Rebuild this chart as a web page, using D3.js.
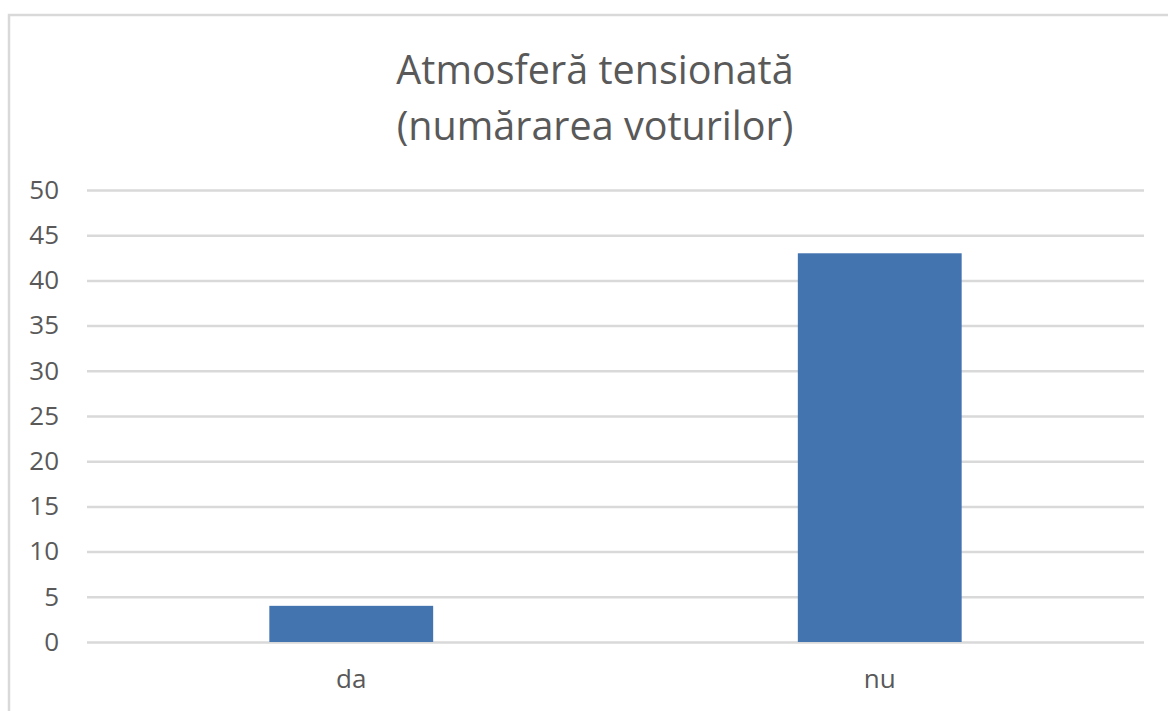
<!DOCTYPE html>
<html>
<head>
<meta charset="utf-8">
<script src="https://cdn.jsdelivr.net/npm/d3@7"></script>
<style>
html,body{margin:0;padding:0;background:#fff;}
svg{display:block;}
</style>
</head>
<body>
<svg id="chart" width="1168" height="711"></svg>
<script>
const titleLines = ["Atmosferă tensionată", "(numărarea voturilor)"];
const categories = ["da", "nu"];
const values = [4, 43];
const yTicks = [0, 5, 10, 15, 20, 25, 30, 35, 40, 45, 50];

const W = 1168, H = 711;
const svg = d3.select("#chart");
const font = "'Open Sans', sans-serif";
const textColor = "#595959";

// outer chart border (partially visible)
svg.append("rect").attr("x", 9).attr("y", 15).attr("width", W + 20).attr("height", H + 20)
  .attr("fill", "#fff").attr("stroke", "#d9d9d9").attr("stroke-width", 2.5);

const plot = {left: 87, right: 1144, top: 190, bottom: 642};

const y = d3.scaleLinear().domain([0, 50]).range([plot.bottom, plot.top]);
const x = d3.scaleBand().domain(categories).range([plot.left, plot.right])
  .paddingInner(0.69).paddingOuter(0.345);

// gridlines via axis
const yAxis = d3.axisLeft(y).tickValues(yTicks).tickSize(-(plot.right - plot.left)).tickPadding(28);
const gy = svg.append("g").attr("transform", `translate(${plot.left},0)`).call(yAxis);
gy.select(".domain").remove();
gy.selectAll(".tick line").attr("stroke", "#d9d9d9").attr("stroke-width", 2.5);
gy.selectAll(".tick text").attr("fill", textColor).attr("font-family", font).attr("font-size", 26);

// bars
svg.append("g").selectAll("rect").data(categories).join("rect")
  .attr("x", d => x(d))
  .attr("width", x.bandwidth())
  .attr("y", (d, i) => y(values[i]))
  .attr("height", (d, i) => y(0) - y(values[i]))
  .attr("fill", "#4374b0");

// x axis labels
const xAxis = d3.axisBottom(x).tickSize(0).tickPadding(28);
const gx = svg.append("g").attr("transform", `translate(0,${plot.bottom})`).call(xAxis);
gx.select(".domain").remove();
gx.selectAll(".tick text").attr("fill", textColor).attr("font-family", font).attr("font-size", 26);

// title
svg.append("g").selectAll("text").data(titleLines).join("text")
  .attr("x", 595)
  .attr("y", (d, i) => 84 + i * 56)
  .attr("text-anchor", "middle")
  .attr("fill", textColor)
  .attr("font-family", font)
  .attr("font-size", 39.5)
  .text(d => d);
</script>
</body>
</html>
